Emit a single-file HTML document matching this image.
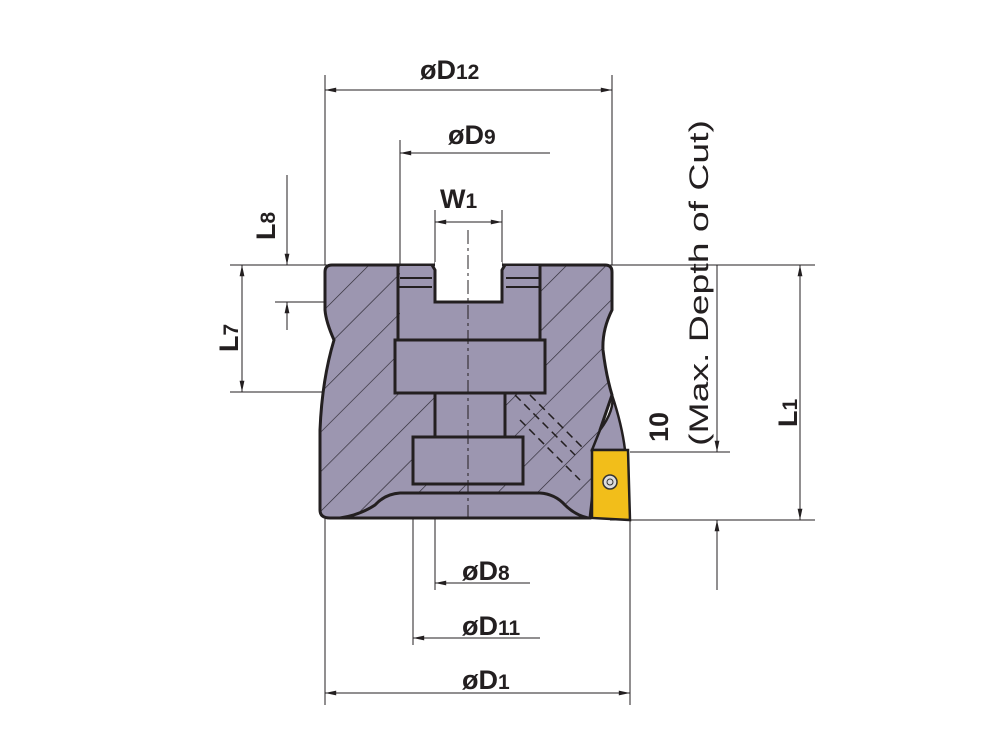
<!DOCTYPE html>
<html><head><style>
html,body{margin:0;padding:0;background:#fff;width:1000px;height:734px;overflow:hidden}
text{font-family:"Liberation Sans",Arial,sans-serif;font-weight:bold;fill:#231f20}
</style></head><body>
<svg width="1000" height="734" viewBox="0 0 1000 734" xmlns="http://www.w3.org/2000/svg">
<defs>
<marker id="a" viewBox="0 0 14 10" refX="14" refY="5" markerWidth="14" markerHeight="8" markerUnits="userSpaceOnUse" orient="auto-start-reverse"><path d="M0,2 L14,5 L0,8 z" fill="#231f20"/></marker>
<pattern id="h" patternUnits="userSpaceOnUse" width="28" height="28" patternTransform="rotate(45)"><rect width="28" height="28" fill="#9c96b0"/><line x1="0" y1="0" x2="0" y2="28" stroke="#2a2630" stroke-width="1.3"/></pattern>
</defs>
<g stroke="#231f20" stroke-width="1" fill="none">
<line x1="325" y1="75" x2="325" y2="265"/>
<line x1="612" y1="75" x2="612" y2="265"/>
<line x1="400" y1="140" x2="400" y2="265"/>
<line x1="435" y1="210" x2="435" y2="265"/>
<line x1="502" y1="210" x2="502" y2="265"/>
<line x1="230" y1="265" x2="680" y2="265"/>
<line x1="612" y1="265" x2="815" y2="265"/>
<line x1="275" y1="302" x2="400" y2="302"/>
<line x1="230" y1="392" x2="395" y2="392"/>
<line x1="630" y1="452" x2="730" y2="452"/>
<line x1="610" y1="520" x2="815" y2="520"/>
<line x1="413" y1="483" x2="413" y2="645"/>
<line x1="435" y1="440" x2="435" y2="590"/>
<line x1="630" y1="520" x2="630" y2="705"/>
<line x1="325" y1="518" x2="325" y2="705"/>
<line x1="325" y1="90" x2="612" y2="90" marker-start="url(#a)" marker-end="url(#a)"/>
<line x1="400" y1="153" x2="550" y2="153" marker-start="url(#a)"/>
<line x1="435" y1="222" x2="502" y2="222" marker-start="url(#a)" marker-end="url(#a)"/>
<line x1="287" y1="175" x2="287" y2="265" marker-end="url(#a)"/>
<line x1="287" y1="330" x2="287" y2="302" marker-end="url(#a)"/>
<line x1="242" y1="265" x2="242" y2="392" marker-start="url(#a)" marker-end="url(#a)"/>
<line x1="800" y1="265" x2="800" y2="520" marker-start="url(#a)" marker-end="url(#a)"/>
<line x1="717" y1="265" x2="717" y2="452" marker-end="url(#a)"/>
<line x1="717" y1="590" x2="717" y2="520" marker-end="url(#a)"/>
<line x1="435" y1="583" x2="530" y2="583" marker-start="url(#a)"/>
<line x1="413" y1="638" x2="540" y2="638" marker-start="url(#a)"/>
<line x1="325" y1="693" x2="630" y2="693" marker-start="url(#a)" marker-end="url(#a)"/>
</g>
<path d="M332,265 L605,265 Q612,265 612,272 L612,310 Q602,330 603,350 Q606,375 612,395 L600,430 L590,518 L330,518 Q320,518 320,510 L320,430 Q322,380 334,340 Q326,322 325,310 L325,272 Q325,265 332,265 Z" fill="url(#h)" stroke="#231f20" stroke-width="3"/>
<path d="M340,518 Q360,515 375,505 Q385,494 400,493 L540,493 Q555,494 565,505 Q575,515 588,518 Z" fill="#9c96b0" stroke="#231f20" stroke-width="3"/>
<g fill="#9c96b0" stroke="#231f20" stroke-width="3">
<rect x="400" y="266" width="140" height="75" stroke-width="0"/>
<path d="M398,265 L398,341 M540,265 L540,341" fill="none"/>
<rect x="395" y="340" width="150" height="53"/>
<rect x="435" y="393" width="70" height="44"/>
<rect x="413" y="437" width="110" height="47"/>
<path d="M398,287 L432,287 M506,287 L540,287 M400,278 L432,278 M506,278 L540,278" fill="none" stroke-width="2"/>
</g>
<rect x="435" y="262" width="67" height="40" fill="#fff"/>
<path d="M432,265 L435,270 L435,302 L502,302 L502,270 L505,265" fill="none" stroke="#231f20" stroke-width="3"/>
<line x1="468" y1="230" x2="468" y2="520" stroke="#231f20" stroke-width="1" stroke-dasharray="14,4,3,4"/>
<g stroke="#231f20" stroke-width="1.5" stroke-dasharray="8,5">
<line x1="515" y1="395" x2="575" y2="455"/>
<line x1="530" y1="395" x2="585" y2="450"/>
<line x1="520" y1="420" x2="580" y2="480"/>
</g>
<path d="M600,430 Q615,410 612,395 Q622,425 625,450 L592,450 Z" fill="#9c96b0" stroke="#231f20" stroke-width="2.5"/>
<path d="M592,450 L628,450 L630,520 L592,518 Z" fill="#f2be1a" stroke="#231f20" stroke-width="2.5"/>
<circle cx="610" cy="482" r="7" fill="#ddd" stroke="#333" stroke-width="1.5"/>
<circle cx="610" cy="482" r="3" fill="none" stroke="#333" stroke-width="1"/>
<text x="420" y="79" font-size="27">øD<tspan font-size="21">12</tspan></text>
<text x="448" y="144" font-size="27">øD<tspan font-size="21">9</tspan></text>
<text x="440" y="208" font-size="27">W<tspan font-size="21">1</tspan></text>
<text x="462" y="580" font-size="27">øD<tspan font-size="21">8</tspan></text>
<text x="462" y="635" font-size="27">øD<tspan font-size="21">11</tspan></text>
<text x="462" y="689" font-size="27">øD<tspan font-size="21">1</tspan></text>
<text transform="translate(275,240) rotate(-90)" font-size="27">L<tspan font-size="21">8</tspan></text>
<text transform="translate(238,352) rotate(-90)" font-size="27">L<tspan font-size="21">7</tspan></text>
<text transform="translate(797,427) rotate(-90)" font-size="27">L<tspan font-size="21">1</tspan></text>
<text transform="translate(668,442) rotate(-90)" font-size="27">10</text>
<text transform="translate(708,446) rotate(-90)" font-size="27" textLength="326" lengthAdjust="spacingAndGlyphs" style="font-weight:normal">(Max. Depth of Cut)</text>
</svg>
</body></html>
